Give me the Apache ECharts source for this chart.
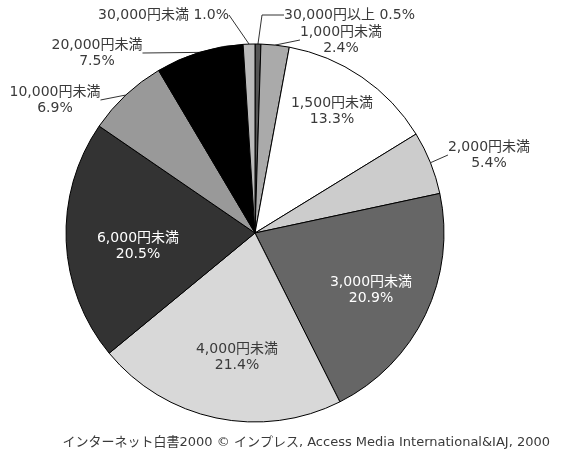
<!DOCTYPE html>
<html>
<head>
<meta charset="utf-8">
<script src="https://cdn.jsdelivr.net/npm/echarts@6/dist/echarts.min.js"></script>
<style>
  html, body { margin: 0; padding: 0; background: #fff; }
  #chart { width: 563px; height: 455px; }
</style>
</head>
<body>
<div id="chart"></div>
<script>
// Monthly spending brackets (clockwise from 12 o'clock) and their shares in %
const categories = ['30,000円以上', '1,000円未満', '1,500円未満', '2,000円未満', '3,000円未満',
                    '4,000円未満', '6,000円未満', '10,000円未満', '20,000円未満', '30,000円未満'];
const shares = [0.5, 2.4, 13.3, 5.4, 20.9, 21.4, 20.5, 6.9, 7.5, 1.0];

// Grey-scale fill for each slice
const fills = ['#555555', '#aaaaaa', '#ffffff', '#cccccc', '#666666',
               '#d8d8d8', '#333333', '#999999', '#000000', '#bbbbbb'];

// Label placement: [x, y, align, inside?, single line?, length2]
const labelSpots = [
  [284, 15, 'left', false, true, 22],
  [341, 40, 'center', false, false, 0],
  [332, 111, 'center', true, false, 0],
  [489, 155, 'center', false, false, 0],
  [371, 290, 'center', true, false, 0],
  [237, 357, 'center', true, false, 0],
  [138, 246, 'center', true, false, 0],
  [55, 100, 'center', false, false, 0],
  [97, 53, 'center', false, false, 0],
  [229, 15, 'right', false, true, 0]
];

const FONT = '"DejaVu Sans", "Noto Sans CJK JP", sans-serif';
const darkText = '#3a3a3a';

const pieData = categories.map((name, i) => {
  const spot = labelSpots[i];
  const inside = spot[3];
  const whiteText = inside && (fills[i] === '#333333' || fills[i] === '#666666');
  const pct = shares[i].toFixed(1) + '%';
  return {
    name: name,
    value: shares[i],
    itemStyle: { color: fills[i] },
    label: {
      position: inside ? 'inside' : 'outside',
      color: whiteText ? '#ffffff' : darkText,
      formatter: spot[4] ? name + ' ' + pct : name + '\n' + pct
    },
    labelLine: { show: !inside, length: 10, length2: spot[5] }
  };
});

const chart = echarts.init(document.getElementById('chart'), null, { renderer: 'canvas' });
chart.setOption({
  backgroundColor: '#ffffff',
  animation: false,
  title: {
    text: 'インターネット白書2000 © インプレス, Access Media International&IAJ, 2000',
    right: 8,
    top: 431,
    textStyle: {
      fontFamily: FONT,
      fontSize: 13,
      fontWeight: 'normal',
      color: darkText
    }
  },
  series: [{
    type: 'pie',
    center: [255, 233],
    radius: 189,
    startAngle: 90,
    clockwise: true,
    avoidLabelOverlap: false,
    itemStyle: { borderColor: '#000000', borderWidth: 1 },
    label: {
      fontFamily: FONT,
      fontSize: 14,
      lineHeight: 16,
      align: 'center'
    },
    labelLine: {
      lineStyle: { color: '#333333', width: 1 },
      minTurnAngle: 0
    },
    labelLayout: function (params) {
      const spot = labelSpots[params.dataIndex];
      return {
        x: spot[0],
        y: spot[1],
        align: spot[2],
        verticalAlign: 'middle'
      };
    },
    emphasis: { disabled: true },
    data: pieData
  }]
});
</script>
</body>
</html>
